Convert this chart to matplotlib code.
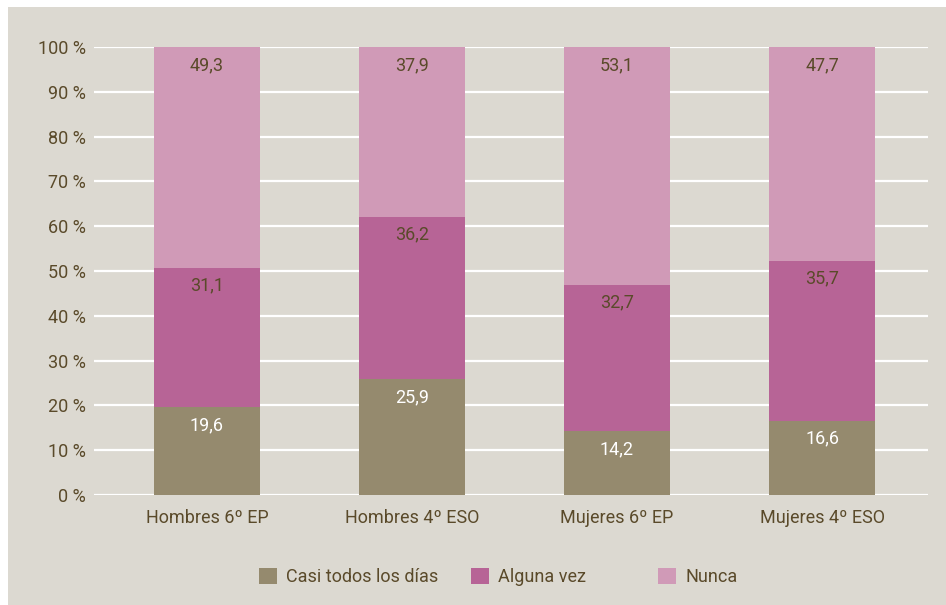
import numpy as np
import matplotlib.pyplot as plt
from matplotlib.patches import Patch, Rectangle

plt.rcParams["font.family"] = ["Roboto", "DejaVu Sans"]

groups = ["Hombres 6º EP", "Hombres 4º ESO", "Mujeres 6º EP", "Mujeres 4º ESO"]
series_names = ["Casi todos los días", "Alguna vez", "Nunca"]
casi = [19.6, 25.9, 14.2, 16.6]
alguna = [31.1, 36.2, 32.7, 35.7]
nunca = [49.3, 37.9, 53.1, 47.7]

colors = ["#958a6e", "#b76496", "#d09ab7"]
label_colors = ["white", "#5a4a2a", "#5a4a2a"]
text_color = "#5a4a2a"
bg = "#dcd9d1"

fig = plt.figure(figsize=(9.46, 6.05), dpi=100, facecolor="white")
fig.patches.append(Rectangle((8 / 946, 0), 1, 1 - 7 / 605, transform=fig.transFigure,
                             facecolor=bg, edgecolor="none", zorder=-10))
ax = fig.add_axes([94 / 946, 1 - 495 / 605, (928 - 94) / 946, (495 - 47) / 605])
ax.set_facecolor(bg)
ax.patch.set_alpha(0)

x = np.arange(len(groups))
width = 0.52
bottom = np.zeros(len(groups))
for vals, col, lc in zip([casi, alguna, nunca], colors, label_colors):
    ax.bar(x, vals, width, bottom=bottom, color=col, zorder=3)
    for xi, b, v in zip(x, bottom, vals):
        ax.text(xi, b + v - 4.0, f"{v:.1f}".replace(".", ","), ha="center", va="center",
                color=lc, fontsize=13, zorder=4)
    bottom += np.array(vals)

ax.set_xlim(-0.551, 3.517)
ax.set_ylim(0, 100)
ax.set_yticks(range(0, 101, 10))
ax.set_yticklabels([f"{t} %" for t in range(0, 101, 10)])
ax.set_xticks(x)
ax.set_xticklabels(groups)
ax.grid(axis="y", color="white", linewidth=1.6, zorder=1)
ax.set_axisbelow(True)
ax.tick_params(axis="y", length=0, labelsize=13, colors=text_color, pad=6)
ax.tick_params(axis="x", length=0, labelsize=13, colors=text_color, pad=10)
for s in ax.spines.values():
    s.set_visible(False)

# legend entries placed one by one, as in the original
legend_x = [259, 471, 658]
for c, name, lx in zip(colors, series_names, legend_x):
    fig.legend([Patch(facecolor=c, edgecolor="none")], [name], loc="center left",
               bbox_to_anchor=(lx / 946, 1 - 577 / 605), frameon=False, fontsize=13,
               labelcolor=text_color, handlelength=1.0, handleheight=1.0,
               handletextpad=0.5, borderpad=0, borderaxespad=0)

fig.savefig("out.png", dpi=100, facecolor="white")
